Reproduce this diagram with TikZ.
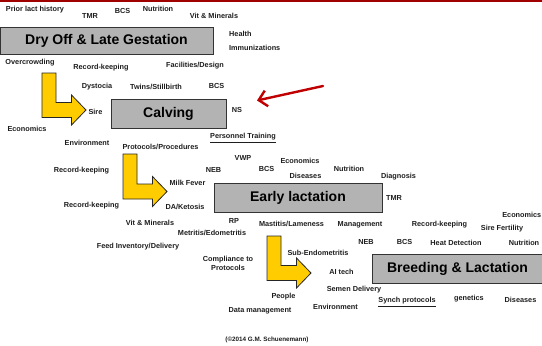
\documentclass[tikz,border=0pt]{standalone}
\usepackage{fontspec}
\setmainfont{Liberation Sans}
\usetikzlibrary{arrows.meta}
\definecolor{boxgray}{HTML}{B3B3B3}
\definecolor{arrowyellow}{HTML}{FFCC00}
\definecolor{topred}{HTML}{A00000}
\definecolor{arrowred}{HTML}{C00000}
\definecolor{txt}{HTML}{1E1E1E}
\tikzset{
  lab/.style={font=\fontsize{7.3}{8.8}\selectfont\bfseries, text=txt, inner sep=0pt, align=center},
  stagebox/.style={draw=black!80, line width=0.9pt, fill=boxgray, inner sep=0pt,
    font=\fontsize{14}{16}\selectfont\bfseries, text=black},
  larrow/.style={fill=arrowyellow, draw=black!85, line width=0.8pt, line join=miter},
}
% L-shaped block arrow: #1 = left x, #2 = top y, #3 = mid y of horizontal shaft
\newcommand{\Larrow}[3]{%
  \path[larrow] (#1,#2) -- ({#1+14},#2) -- ({#1+14},{#3-7.5}) -- ({#1+29.5},{#3-7.5})
    -- ({#1+29.5},{#3-15}) -- ({#1+44},#3) -- ({#1+29.5},{#3+15}) -- ({#1+29.5},{#3+7.5})
    -- (#1,{#3+7.5}) -- cycle;}
\begin{document}
\begin{tikzpicture}[x=1pt,y=-1pt]
\useasboundingbox (0,0) rectangle (542,346);
\fill[white] (0,0) rectangle (542,346);
% top red rule
\coordinate (ruleL) at (0,1);
\coordinate (ruleR) at (542,1);
\draw[topred, line width=1.3pt] (ruleL) -- (ruleR);

% stage boxes
\node[stagebox, minimum width=213pt, minimum height=27pt] (dry) at (106.5,40.5) {Dry Off \& Late Gestation};
\node[stagebox, minimum width=115pt, minimum height=29pt] (calv) at (168.5,113.5) {Calving};
\node[stagebox, minimum width=168pt, minimum height=29pt] (early) at (298,197.5) {Early lactation};
\node[stagebox, minimum width=171pt, minimum height=29pt] (breed) at (457.5,268.5) {Breeding \& Lactation};

% yellow bent arrows
\Larrow{42}{73}{110}
\Larrow{123}{154}{191.5}
\Larrow{267}{236}{273}

% red pointer arrow
\coordinate (redA) at (323,86);
\coordinate (redB) at (257,100.5);
\draw[arrowred, line width=2.4pt, line cap=round, -{Straight Barb[length=8pt,width=16pt]}] (redA) -- (redB);

% labels: dry off
\node[lab] (l1) at (35,10) {Prior lact history};
\node[lab] (l2) at (90,15.5) {TMR};
\node[lab] (l3) at (122.5,10.5) {BCS};
\node[lab] (l4) at (158,9) {Nutrition};
\node[lab] (l5) at (214,16) {Vit \& Minerals};
\node[lab, anchor=west] (l6) at (229,34) {Health};
\node[lab, anchor=west] (l7) at (229,48) {Immunizations};
\node[lab] (l8) at (30,63) {Overcrowding};
\node[lab] (l9) at (101,68) {Record-keeping};
\node[lab] (l10) at (195,66) {Facilities/Design};
\node[lab] (l11) at (97,87) {Dystocia};
\node[lab] (l12) at (156,86.5) {Twins/Stillbirth};
\node[lab] (l13) at (216.5,86) {BCS};
\node[lab] (l14) at (95.5,112) {Sire};
\node[lab] (l15) at (237,110) {NS};
% calving
\node[lab] (l16) at (27,129) {Economics};
\node[lab] (l17) at (87,143) {Environment};
\node[lab] (l18) at (160.5,147) {Protocols/Procedures};
\node[lab] (l19) at (243,138) {\underline{Personnel Training}};
\node[lab] (l20) at (81.5,171) {Record-keeping};
\node[lab] (l21) at (243,158) {VWP};
\node[lab] (l22) at (213.5,170) {NEB};
\node[lab] (l23) at (266.5,169) {BCS};
\node[lab] (l24) at (300,161) {Economics};
\node[lab] (l25) at (305.5,176) {Diseases};
\node[lab] (l26) at (349,169) {Nutrition};
\node[lab] (l27) at (398.5,177) {Diagnosis};
\node[lab] (l28) at (394,197.5) {TMR};
\node[lab] (l29) at (187.5,183) {Milk Fever};
\node[lab] (l30) at (91.5,206) {Record-keeping};
\node[lab] (l31) at (185,206.5) {DA/Ketosis};
% early lactation
\node[lab] (l32) at (150,223) {Vit \& Minerals};
\node[lab] (l33) at (234,221) {RP};
\node[lab] (l34) at (212,233) {Metritis/Edometritis};
\node[lab] (l35) at (291.5,224) {Mastitis/Lameness};
\node[lab] (l36) at (360,225) {Management};
\node[lab] (l37) at (439.5,225) {Record-keeping};
\node[lab, anchor=east] (l38) at (541.5,215) {Economics};
\node[lab] (l39) at (502,229) {Sire Fertility};
\node[lab] (l40) at (366,242) {NEB};
\node[lab] (l41) at (404.5,241.5) {BCS};
\node[lab] (l42) at (456,243) {Heat Detection};
\node[lab] (l43) at (524,243) {Nutrition};
\node[lab] (l44) at (138,247) {Feed Inventory/Delivery};
\node[lab] (l45) at (318,253) {Sub-Endometritis};
\node[lab] (l46) at (228,263) {Compliance to\\Protocols};
\node[lab] (l47) at (341.5,272) {AI tech};
\node[lab] (l48) at (354,290) {Semen Delivery};
\node[lab] (l49) at (283.5,297) {People};
\node[lab] (l50) at (335.5,307) {Environment};
\node[lab] (l51) at (407,302) {\underline{Synch protocols}};
\node[lab] (l52) at (469,299) {genetics};
\node[lab] (l53) at (520.5,300) {Diseases};
\node[lab] (l54) at (260,310.5) {Data management};
\node[lab, font=\fontsize{6.3}{7}\selectfont\bfseries] (copy) at (267,339.5) {(\textcopyright2014 G.M. Schuenemann)};
\end{tikzpicture}
\end{document}
